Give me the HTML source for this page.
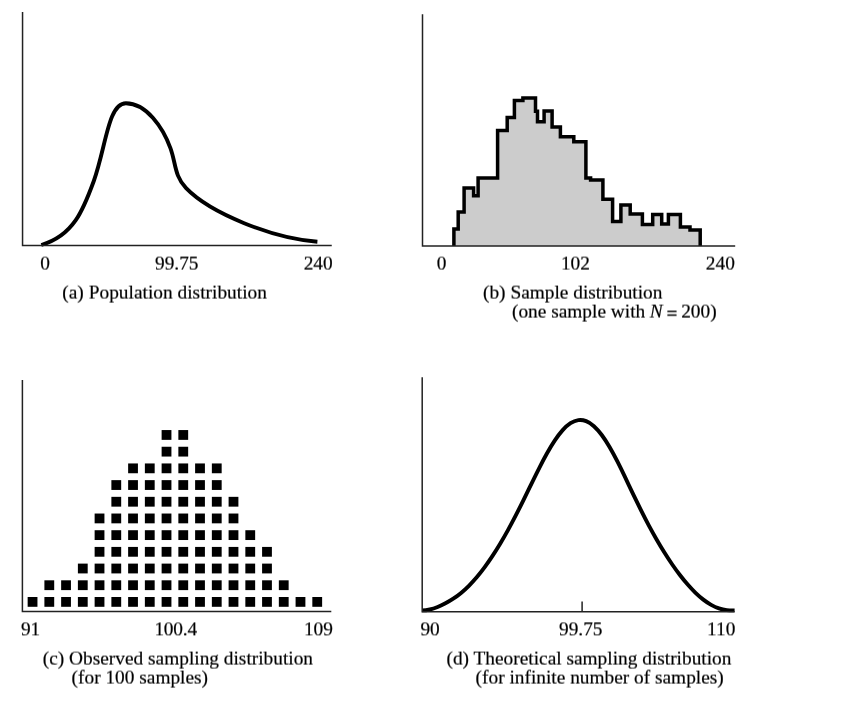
<!DOCTYPE html>
<html lang="en"><head><meta charset="utf-8"><title>Population, sample and sampling distributions</title>
<style>
html,body{margin:0;padding:0;background:#fff;}
body{width:850px;height:701px;overflow:hidden;}
svg{display:block;}
text{font-family:"Liberation Serif","Times New Roman",Times,serif;font-size:19.35px;fill:#000;stroke:#000;stroke-width:0.2px;}
.ax{stroke:#222;stroke-width:1.5;fill:none;stroke-linejoin:miter;}
.cv{stroke:#000;stroke-width:3.9;fill:none;stroke-linecap:butt;stroke-linejoin:round;}
.hist{stroke:#000;stroke-width:3.5;fill:#ccc;stroke-linejoin:miter;}
.sq{fill:#000;}
.it{font-style:italic;}
.eq{font-weight:bold;}
</style></head><body>
<svg width="850" height="701" viewBox="0 0 850 701">
<rect width="850" height="701" fill="#fff"/>
<defs>
<filter id="up" filterUnits="userSpaceOnUse" x="0" y="0" width="850" height="701" color-interpolation-filters="sRGB"><feConvolveMatrix order="1 2" kernelMatrix="0.4 0.6" targetX="0" targetY="0" edgeMode="none" preserveAlpha="false"/></filter>
<filter id="dn" filterUnits="userSpaceOnUse" x="0" y="0" width="850" height="701" color-interpolation-filters="sRGB"><feConvolveMatrix order="1 2" kernelMatrix="0.6 0.4" targetX="0" targetY="1" edgeMode="none" preserveAlpha="false"/></filter>
</defs>
<g id="panel-a">
<path class="cv" d="M41.3 245 C73.6 235.6 83.4 209.6 93.8 181.0 C106.0 146.84 108.1 103.32 125.9 103.32 C146.44 103.32 162.92 127.65 170.42 148.10 C175.93 163.13 174.3 176.0 186.1 188.2 C210.6 213.5 272.7 238.38 317.4 241.7"/>
<path class="ax" d="M22.55 12 V245.4 H331.75"/>
<text x="40.3" y="270" filter="url(#up)">0</text>
<text x="155" y="270" filter="url(#up)">99.75</text>
<text x="303.7" y="270" filter="url(#up)">240</text>
<text x="62.3" y="299" textLength="204.6" lengthAdjust="spacing" filter="url(#up)">(a) Population distribution</text>
</g>
<g id="panel-b">
<path class="hist" d="M453.9 245.9 L453.9 228.9 L458.2 228.9 L458.2 212.0 L464.1 212.0 L464.1 187.9 L473.6 187.9 L473.6 195.8 L478.1 195.8 L478.1 178.1 L497.6 178.1 L497.6 130.4 L507.2 130.4 L507.2 117.4 L514.4 117.4 L514.4 100.6 L522.9 100.6 L522.9 97.9 L535.5 97.9 L535.5 111.2 L537.5 111.2 L537.5 121.8 L544.1 121.8 L544.1 110.9 L552.1 110.9 L552.1 127.1 L560.4 127.1 L560.4 136.7 L573.8 136.7 L573.8 141.8 L585.9 141.8 L585.9 177.9 L590.6 177.9 L590.6 180.0 L602.9 180.0 L602.9 199.2 L612.6 199.2 L612.6 221.4 L620.9 221.4 L620.9 205.1 L630.2 205.1 L630.2 214.1 L642.4 214.1 L642.4 224.6 L652.7 224.6 L652.7 214.4 L661.7 214.4 L661.7 224.1 L668.4 224.1 L668.4 214.4 L680.4 214.4 L680.4 227.1 L690.0 227.1 L690.0 230.0 L700.2 230.0 L700.2 245.9"/>
<path class="ax" d="M422.5 14.3 V245.9 H735.2"/>
<text x="436.8" y="270" filter="url(#up)">0</text>
<text x="560.9" y="270" filter="url(#up)">102</text>
<text x="705.8" y="270" filter="url(#up)">240</text>
<text x="483" y="299" filter="url(#up)">(b) Sample distribution</text>
<text x="512" y="318" filter="url(#up)">(one sample with<tspan class="it" dx="-0.4"> N</tspan><tspan class="eq" dx="-0.9" dy="1.6"> =</tspan><tspan dx="-1.2" dy="-1.6"> 200)</tspan></text>
</g>
<g id="panel-c">
<rect class="sq" x="27.65" y="597.00" width="9.8" height="9.8"/>
<rect class="sq" x="44.40" y="597.00" width="9.8" height="9.8"/>
<rect class="sq" x="61.14" y="597.00" width="9.8" height="9.8"/>
<rect class="sq" x="77.89" y="597.00" width="9.8" height="9.8"/>
<rect class="sq" x="94.63" y="597.00" width="9.8" height="9.8"/>
<rect class="sq" x="111.38" y="597.00" width="9.8" height="9.8"/>
<rect class="sq" x="128.13" y="597.00" width="9.8" height="9.8"/>
<rect class="sq" x="144.87" y="597.00" width="9.8" height="9.8"/>
<rect class="sq" x="161.62" y="597.00" width="9.8" height="9.8"/>
<rect class="sq" x="178.36" y="597.00" width="9.8" height="9.8"/>
<rect class="sq" x="195.11" y="597.00" width="9.8" height="9.8"/>
<rect class="sq" x="211.86" y="597.00" width="9.8" height="9.8"/>
<rect class="sq" x="228.60" y="597.00" width="9.8" height="9.8"/>
<rect class="sq" x="245.35" y="597.00" width="9.8" height="9.8"/>
<rect class="sq" x="262.09" y="597.00" width="9.8" height="9.8"/>
<rect class="sq" x="278.84" y="597.00" width="9.8" height="9.8"/>
<rect class="sq" x="295.59" y="597.00" width="9.8" height="9.8"/>
<rect class="sq" x="312.33" y="597.00" width="9.8" height="9.8"/>
<rect class="sq" x="44.40" y="580.31" width="9.8" height="9.8"/>
<rect class="sq" x="61.14" y="580.31" width="9.8" height="9.8"/>
<rect class="sq" x="77.89" y="580.31" width="9.8" height="9.8"/>
<rect class="sq" x="94.63" y="580.31" width="9.8" height="9.8"/>
<rect class="sq" x="111.38" y="580.31" width="9.8" height="9.8"/>
<rect class="sq" x="128.13" y="580.31" width="9.8" height="9.8"/>
<rect class="sq" x="144.87" y="580.31" width="9.8" height="9.8"/>
<rect class="sq" x="161.62" y="580.31" width="9.8" height="9.8"/>
<rect class="sq" x="178.36" y="580.31" width="9.8" height="9.8"/>
<rect class="sq" x="195.11" y="580.31" width="9.8" height="9.8"/>
<rect class="sq" x="211.86" y="580.31" width="9.8" height="9.8"/>
<rect class="sq" x="228.60" y="580.31" width="9.8" height="9.8"/>
<rect class="sq" x="245.35" y="580.31" width="9.8" height="9.8"/>
<rect class="sq" x="262.09" y="580.31" width="9.8" height="9.8"/>
<rect class="sq" x="278.84" y="580.31" width="9.8" height="9.8"/>
<rect class="sq" x="77.89" y="563.61" width="9.8" height="9.8"/>
<rect class="sq" x="94.63" y="563.61" width="9.8" height="9.8"/>
<rect class="sq" x="111.38" y="563.61" width="9.8" height="9.8"/>
<rect class="sq" x="128.13" y="563.61" width="9.8" height="9.8"/>
<rect class="sq" x="144.87" y="563.61" width="9.8" height="9.8"/>
<rect class="sq" x="161.62" y="563.61" width="9.8" height="9.8"/>
<rect class="sq" x="178.36" y="563.61" width="9.8" height="9.8"/>
<rect class="sq" x="195.11" y="563.61" width="9.8" height="9.8"/>
<rect class="sq" x="211.86" y="563.61" width="9.8" height="9.8"/>
<rect class="sq" x="228.60" y="563.61" width="9.8" height="9.8"/>
<rect class="sq" x="245.35" y="563.61" width="9.8" height="9.8"/>
<rect class="sq" x="262.09" y="563.61" width="9.8" height="9.8"/>
<rect class="sq" x="94.63" y="546.92" width="9.8" height="9.8"/>
<rect class="sq" x="111.38" y="546.92" width="9.8" height="9.8"/>
<rect class="sq" x="128.13" y="546.92" width="9.8" height="9.8"/>
<rect class="sq" x="144.87" y="546.92" width="9.8" height="9.8"/>
<rect class="sq" x="161.62" y="546.92" width="9.8" height="9.8"/>
<rect class="sq" x="178.36" y="546.92" width="9.8" height="9.8"/>
<rect class="sq" x="195.11" y="546.92" width="9.8" height="9.8"/>
<rect class="sq" x="211.86" y="546.92" width="9.8" height="9.8"/>
<rect class="sq" x="228.60" y="546.92" width="9.8" height="9.8"/>
<rect class="sq" x="245.35" y="546.92" width="9.8" height="9.8"/>
<rect class="sq" x="262.09" y="546.92" width="9.8" height="9.8"/>
<rect class="sq" x="94.63" y="530.22" width="9.8" height="9.8"/>
<rect class="sq" x="111.38" y="530.22" width="9.8" height="9.8"/>
<rect class="sq" x="128.13" y="530.22" width="9.8" height="9.8"/>
<rect class="sq" x="144.87" y="530.22" width="9.8" height="9.8"/>
<rect class="sq" x="161.62" y="530.22" width="9.8" height="9.8"/>
<rect class="sq" x="178.36" y="530.22" width="9.8" height="9.8"/>
<rect class="sq" x="195.11" y="530.22" width="9.8" height="9.8"/>
<rect class="sq" x="211.86" y="530.22" width="9.8" height="9.8"/>
<rect class="sq" x="228.60" y="530.22" width="9.8" height="9.8"/>
<rect class="sq" x="245.35" y="530.22" width="9.8" height="9.8"/>
<rect class="sq" x="94.63" y="513.53" width="9.8" height="9.8"/>
<rect class="sq" x="111.38" y="513.53" width="9.8" height="9.8"/>
<rect class="sq" x="128.13" y="513.53" width="9.8" height="9.8"/>
<rect class="sq" x="144.87" y="513.53" width="9.8" height="9.8"/>
<rect class="sq" x="161.62" y="513.53" width="9.8" height="9.8"/>
<rect class="sq" x="178.36" y="513.53" width="9.8" height="9.8"/>
<rect class="sq" x="195.11" y="513.53" width="9.8" height="9.8"/>
<rect class="sq" x="211.86" y="513.53" width="9.8" height="9.8"/>
<rect class="sq" x="228.60" y="513.53" width="9.8" height="9.8"/>
<rect class="sq" x="111.38" y="496.84" width="9.8" height="9.8"/>
<rect class="sq" x="128.13" y="496.84" width="9.8" height="9.8"/>
<rect class="sq" x="144.87" y="496.84" width="9.8" height="9.8"/>
<rect class="sq" x="161.62" y="496.84" width="9.8" height="9.8"/>
<rect class="sq" x="178.36" y="496.84" width="9.8" height="9.8"/>
<rect class="sq" x="195.11" y="496.84" width="9.8" height="9.8"/>
<rect class="sq" x="211.86" y="496.84" width="9.8" height="9.8"/>
<rect class="sq" x="228.60" y="496.84" width="9.8" height="9.8"/>
<rect class="sq" x="111.38" y="480.14" width="9.8" height="9.8"/>
<rect class="sq" x="128.13" y="480.14" width="9.8" height="9.8"/>
<rect class="sq" x="144.87" y="480.14" width="9.8" height="9.8"/>
<rect class="sq" x="161.62" y="480.14" width="9.8" height="9.8"/>
<rect class="sq" x="178.36" y="480.14" width="9.8" height="9.8"/>
<rect class="sq" x="195.11" y="480.14" width="9.8" height="9.8"/>
<rect class="sq" x="211.86" y="480.14" width="9.8" height="9.8"/>
<rect class="sq" x="128.13" y="463.45" width="9.8" height="9.8"/>
<rect class="sq" x="144.87" y="463.45" width="9.8" height="9.8"/>
<rect class="sq" x="161.62" y="463.45" width="9.8" height="9.8"/>
<rect class="sq" x="178.36" y="463.45" width="9.8" height="9.8"/>
<rect class="sq" x="195.11" y="463.45" width="9.8" height="9.8"/>
<rect class="sq" x="211.86" y="463.45" width="9.8" height="9.8"/>
<rect class="sq" x="161.62" y="446.75" width="9.8" height="9.8"/>
<rect class="sq" x="178.36" y="446.75" width="9.8" height="9.8"/>
<rect class="sq" x="161.62" y="430.06" width="9.8" height="9.8"/>
<rect class="sq" x="178.36" y="430.06" width="9.8" height="9.8"/>
<path class="ax" d="M22.4 380 V611.5 H331.3"/>
<text x="20.9" y="635" filter="url(#dn)">91</text>
<text x="154.4" y="635" textLength="42.7" lengthAdjust="spacing" filter="url(#dn)">100.4</text>
<text x="303.9" y="635" filter="url(#dn)">109</text>
<text x="42.8" y="665" filter="url(#up)">(c) Observed sampling distribution</text>
<text x="71.6" y="684" filter="url(#up)">(for 100 samples)</text>
</g>
<g id="panel-d">
<path class="cv" d="M422.00 610.41 C424.61 610.41 427.21 610.13 429.81 609.52 C432.42 608.91 435.02 608.04 437.63 606.99 C440.24 605.94 442.84 604.71 445.44 603.33 C448.05 601.95 450.65 600.41 453.26 598.69 C455.87 596.96 458.47 595.05 461.07 592.91 C463.68 590.77 466.28 588.41 468.89 585.81 C471.50 583.21 474.10 580.38 476.70 577.31 C479.31 574.24 481.91 570.93 484.52 567.41 C487.12 563.88 489.73 560.14 492.34 556.19 C494.94 552.24 497.55 548.08 500.15 543.73 C502.75 539.37 505.36 534.83 507.97 530.10 C510.57 525.37 513.17 520.46 515.78 515.40 C518.38 510.34 520.99 505.12 523.60 499.83 C526.20 494.54 528.80 489.17 531.41 483.83 C534.01 478.49 536.62 473.18 539.23 468.04 C541.83 462.90 544.43 457.94 547.04 453.30 C549.64 448.65 552.25 444.31 554.86 440.42 C557.46 436.52 560.07 433.07 562.67 430.16 C565.28 427.26 567.88 424.92 570.49 423.22 C573.09 421.52 575.69 420.47 578.30 420.12 C580.90 419.76 583.51 420.09 586.12 421.12 C588.72 422.14 591.33 423.84 593.93 426.18 C596.54 428.52 599.14 431.49 601.75 435.00 C604.35 438.51 606.95 442.55 609.56 447.01 C612.16 451.47 614.77 456.34 617.38 461.47 C619.98 466.60 622.59 471.97 625.19 477.42 C627.80 482.87 630.40 488.38 633.00 493.83 C635.61 499.28 638.22 504.65 640.82 509.88 C643.43 515.11 646.03 520.19 648.63 525.08 C651.24 529.97 653.85 534.69 656.45 539.22 C659.06 543.76 661.66 548.11 664.26 552.28 C666.87 556.45 669.48 560.44 672.08 564.23 C674.69 568.02 677.29 571.62 679.89 575.02 C682.50 578.41 685.11 581.60 687.71 584.58 C690.32 587.56 692.92 590.31 695.53 592.83 C698.13 595.35 700.74 597.63 703.34 599.64 C705.95 601.66 708.55 603.40 711.15 604.86 C713.76 606.31 716.37 607.48 718.97 608.35 C721.58 609.22 724.18 609.80 726.79 610.13 C729.39 610.46 732.00 610.41 734.60 610.41"/>
<path class="ax" d="M422.2 377.2 V611.65 H734.6"/>
<path class="ax" d="M582.1 601.6 V611.65"/>
<text x="420.4" y="635" filter="url(#dn)">90</text>
<text x="559" y="635" filter="url(#dn)">99.75</text>
<text x="707.1" y="635" filter="url(#dn)">110</text>
<text x="446.5" y="665" filter="url(#up)">(d) Theoretical sampling distribution</text>
<text x="475.6" y="684" filter="url(#up)">(for infinite number of samples)</text>
</g>
</svg></body></html>
